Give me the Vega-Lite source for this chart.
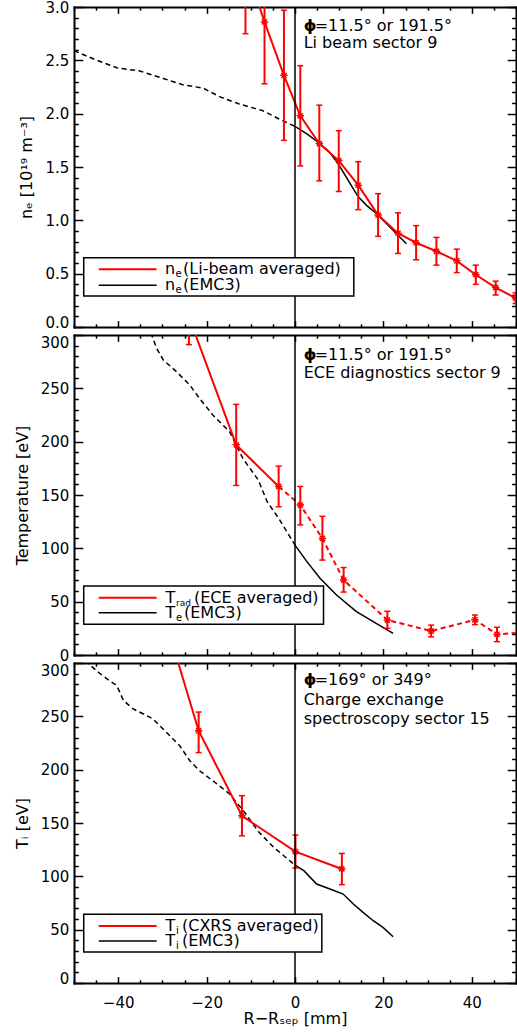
{
  "$schema": "https://vega.github.io/schema/vega-lite/v6.json",
  "background": "white",
  "padding": {"left": 14, "top": 0, "right": 0, "bottom": 0},
  "bounds": "flush",
  "spacing": 8,
  "config": {
    "font": "DejaVu Sans",
    "view": {"stroke": null},
    "axis": {
      "grid": false,
      "domainColor": "black",
      "domainWidth": 2,
      "domainCap": "square",
      "tickColor": "black",
      "tickWidth": 1.5,
      "labelColor": "black",
      "labelFont": "DejaVu Sans",
      "labelFontSize": 15,
      "labelFontWeight": "normal",
      "labelFlush": false,
      "labelOverlap": false,
      "titleColor": "black",
      "titleFont": "DejaVu Sans",
      "titleFontSize": 16,
      "titleFontWeight": "normal"
    },
    "text": {"font": "DejaVu Sans", "color": "black", "fontSize": 16, "align": "left", "baseline": "alphabetic"}
  },
  "datasets": {
    "ne_libeam": [
      {"x": -11.2, "y": 3.40, "lo": 2.75, "hi": 4.05},
      {"x": -6.9, "y": 2.86, "lo": 2.28, "hi": 3.44},
      {"x": -2.5, "y": 2.36, "lo": 1.75, "hi": 2.97},
      {"x": 1.2, "y": 1.98, "lo": 1.51, "hi": 2.45},
      {"x": 5.5, "y": 1.72, "lo": 1.37, "hi": 2.08},
      {"x": 9.9, "y": 1.56, "lo": 1.27, "hi": 1.84},
      {"x": 14.3, "y": 1.33, "lo": 1.10, "hi": 1.55},
      {"x": 18.8, "y": 1.05, "lo": 0.85, "hi": 1.25},
      {"x": 23.3, "y": 0.88, "lo": 0.69, "hi": 1.07},
      {"x": 27.4, "y": 0.79, "lo": 0.63, "hi": 0.95},
      {"x": 32.0, "y": 0.71, "lo": 0.58, "hi": 0.84},
      {"x": 36.6, "y": 0.62, "lo": 0.51, "hi": 0.73},
      {"x": 40.9, "y": 0.49, "lo": 0.40, "hi": 0.58},
      {"x": 45.4, "y": 0.37, "lo": 0.30, "hi": 0.43},
      {"x": 49.9, "y": 0.27, "lo": 0.22, "hi": 0.32}
    ],
    "ne_emc3": [
      {"x": -50, "y": 2.59}, {"x": -44.8, "y": 2.50}, {"x": -40.3, "y": 2.43},
      {"x": -35.1, "y": 2.40}, {"x": -29.8, "y": 2.33}, {"x": -25.3, "y": 2.27},
      {"x": -20.8, "y": 2.24}, {"x": -17.1, "y": 2.16}, {"x": -12.6, "y": 2.09},
      {"x": -7.4, "y": 2.03}, {"x": -3.6, "y": 1.95}, {"x": 0, "y": 1.88},
      {"x": 2.7, "y": 1.81}, {"x": 5.3, "y": 1.73}, {"x": 7.6, "y": 1.65},
      {"x": 9.8, "y": 1.53}, {"x": 12.1, "y": 1.37}, {"x": 14.3, "y": 1.22},
      {"x": 16.2, "y": 1.14}, {"x": 18.8, "y": 1.05}, {"x": 21.4, "y": 0.94},
      {"x": 23.3, "y": 0.86}, {"x": 25.2, "y": 0.78}
    ],
    "te_ece": [
      {"x": -24.0, "y": 317, "lo": 291, "hi": 343},
      {"x": -13.3, "y": 197, "lo": 159, "hi": 235},
      {"x": -3.7, "y": 158, "lo": 139, "hi": 177},
      {"x": 1.2, "y": 140.6, "lo": 122, "hi": 158},
      {"x": 6.2, "y": 109.3, "lo": 89, "hi": 130},
      {"x": 11.0, "y": 70.3, "lo": 59, "hi": 82},
      {"x": 20.9, "y": 32.8, "lo": 25, "hi": 41},
      {"x": 30.8, "y": 22.5, "lo": 17, "hi": 28},
      {"x": 40.7, "y": 33.0, "lo": 28.5, "hi": 37.5},
      {"x": 45.7, "y": 19.3, "lo": 12.5, "hi": 26},
      {"x": 51.0, "y": 21, "lo": 16, "hi": 26}
    ],
    "te_emc3": [
      {"x": -32.6, "y": 302}, {"x": -31.3, "y": 287.5}, {"x": -29.8, "y": 276.6},
      {"x": -26.8, "y": 265.6}, {"x": -23.8, "y": 253.1}, {"x": -21.6, "y": 240.6},
      {"x": -18.6, "y": 225}, {"x": -14.8, "y": 209.4}, {"x": -11.8, "y": 184.3},
      {"x": -8.3, "y": 164}, {"x": -6.3, "y": 143.7}, {"x": -3.7, "y": 128.1},
      {"x": 0, "y": 103}, {"x": 2.7, "y": 87.5}, {"x": 5.7, "y": 71.8},
      {"x": 9.4, "y": 56.2}, {"x": 13.9, "y": 40.6}, {"x": 17.7, "y": 31.2},
      {"x": 22.2, "y": 20.3}
    ],
    "ti_cxrs": [
      {"x": -28.0, "y": 322, "lo": 302, "hi": 342},
      {"x": -21.8, "y": 236.5, "lo": 216, "hi": 254},
      {"x": -12.0, "y": 156.8, "lo": 138, "hi": 175.6},
      {"x": 0.1, "y": 123.1, "lo": 107.8, "hi": 138.7},
      {"x": 10.6, "y": 106.9, "lo": 92.2, "hi": 121.5}
    ],
    "ti_emc3": [
      {"x": -47.5, "y": 302}, {"x": -44, "y": 289.7}, {"x": -41.4, "y": 281.8},
      {"x": -40.3, "y": 278.7}, {"x": -38.8, "y": 264.7}, {"x": -36.6, "y": 256.9},
      {"x": -34.3, "y": 252.2}, {"x": -32.1, "y": 247.5}, {"x": -29.1, "y": 235},
      {"x": -26.1, "y": 222.5}, {"x": -23.8, "y": 208.4}, {"x": -21.6, "y": 199},
      {"x": -18.6, "y": 189.7}, {"x": -14.8, "y": 177.2}, {"x": -11.1, "y": 158.4},
      {"x": -8.3, "y": 142}, {"x": -4.8, "y": 127.1}, {"x": 0, "y": 110.5},
      {"x": 2.0, "y": 105.3}, {"x": 4.9, "y": 92.8}, {"x": 7.9, "y": 88.1},
      {"x": 10.9, "y": 83.4}, {"x": 13.2, "y": 74.1}, {"x": 15.4, "y": 66.2},
      {"x": 17.7, "y": 58.4}, {"x": 19.9, "y": 52.1}, {"x": 22.2, "y": 43.4}
    ],
    "separatrix": [{"r": 0}]
  },
  "vconcat": [
    {
      "width": 442,
      "height": 320,
      "layer": [
        {
          "data": {"name": "ne_emc3"},
          "transform": [{"filter": "datum.x <= 0"}],
          "mark": {"type": "line", "color": "black", "strokeWidth": 1.5, "strokeDash": [5, 3.5], "clip": true},
          "encoding": {
            "x": {"field": "x", "type": "quantitative", "scale": {"domain": [-50, 50], "nice": false, "zero": false},
              "axis": {"orient": "bottom", "values": [-50,-45,-40,-35,-30,-25,-20,-15,-10,-5,0,5,10,15,20,25,30,35,40,45,50],
                "tickSize": {"expr": "datum.value % 20 === 0 ? -6.4 : -3.2"}, "labels": false, "title": null}},
            "y": {"field": "y", "type": "quantitative", "scale": {"domain": [0, 3], "nice": false, "zero": false},
              "axis": {"orient": "left", "values": [0,0.1,0.2,0.3,0.4,0.5,0.6,0.7,0.8,0.9,1,1.1,1.2,1.3,1.4,1.5,1.6,1.7,1.8,1.9,2,2.1,2.2,2.3,2.4,2.5,2.6,2.7,2.8,2.9,3],
                "tickSize": {"expr": "round(datum.value * 10) % 5 === 0 ? -8.8 : -4.4"},
                "labelExpr": "round(datum.value * 10) % 5 === 0 ? format(datum.value, '.1f') : ''",
                "labelBaseline": {"condition": {"test": "datum.value === 0", "value": "alphabetic"}, "value": "middle"},
                "labelPadding": 14, "title": "nₑ [10¹⁹ m⁻³]", "titlePadding": 10}}
          }
        },
        {
          "data": {"name": "ne_emc3"},
          "transform": [{"filter": "datum.x >= 0"}],
          "mark": {"type": "line", "color": "black", "strokeWidth": 1.5, "clip": true},
          "encoding": {
            "x": {"field": "x", "type": "quantitative",
              "axis": {"orient": "top", "values": [-50,-45,-40,-35,-30,-25,-20,-15,-10,-5,0,5,10,15,20,25,30,35,40,45,50],
                "tickSize": {"expr": "datum.value % 20 === 0 ? -6.4 : -3.2"}, "labels": false, "title": null}},
            "y": {"field": "y", "type": "quantitative",
              "axis": {"orient": "right", "values": [0,0.1,0.2,0.3,0.4,0.5,0.6,0.7,0.8,0.9,1,1.1,1.2,1.3,1.4,1.5,1.6,1.7,1.8,1.9,2,2.1,2.2,2.3,2.4,2.5,2.6,2.7,2.8,2.9,3],
                "tickSize": {"expr": "round(datum.value * 10) % 5 === 0 ? -8.8 : -4.4"}, "labels": false, "title": null}}
          }
        },
        {
          "data": {"name": "ne_libeam"},
          "mark": {"type": "line", "color": "#ff0000", "strokeWidth": 2, "clip": true},
          "encoding": {
            "x": {"field": "x", "type": "quantitative", "axis": null},
            "y": {"field": "y", "type": "quantitative", "axis": null}
          }
        },
        {
          "data": {"name": "ne_libeam"},
          "mark": {"type": "rule", "color": "#ff0000", "strokeWidth": 2, "clip": true},
          "encoding": {
            "x": {"field": "x", "type": "quantitative", "axis": null},
            "y": {"field": "lo", "type": "quantitative", "axis": null},
            "y2": {"field": "hi"}
          }
        },
        {
          "data": {"name": "ne_libeam"},
          "mark": {"type": "tick", "orient": "horizontal", "color": "#ff0000", "size": 6, "thickness": 1.5, "opacity": 1, "clip": true},
          "encoding": {
            "x": {"field": "x", "type": "quantitative", "axis": null},
            "y": {"field": "lo", "type": "quantitative", "axis": null}
          }
        },
        {
          "data": {"name": "ne_libeam"},
          "mark": {"type": "tick", "orient": "horizontal", "color": "#ff0000", "size": 6, "thickness": 1.5, "opacity": 1, "clip": true},
          "encoding": {
            "x": {"field": "x", "type": "quantitative", "axis": null},
            "y": {"field": "hi", "type": "quantitative", "axis": null}
          }
        },
        {
          "data": {"name": "ne_libeam"},
          "mark": {"type": "point", "shape": "M-1,0L1,0M0,-1L0,1M-0.7,-0.7L0.7,0.7M-0.7,0.7L0.7,-0.7", "filled": false, "color": "#ff0000", "strokeWidth": 1.5, "size": 55, "opacity": 1, "clip": true},
          "encoding": {
            "x": {"field": "x", "type": "quantitative", "axis": null},
            "y": {"field": "y", "type": "quantitative", "axis": null}
          }
        },
        {
          "data": {"name": "separatrix"},
          "mark": {"type": "rule", "color": "black", "strokeWidth": 1.5},
          "encoding": {"x": {"field": "r", "type": "quantitative", "axis": null}}
        },
        {
          "data": {"values": [{}]},
          "mark": {"type": "rect", "fill": "white", "stroke": "black", "strokeWidth": 1.5},
          "encoding": {"x": {"datum": -47.8, "axis": null}, "x2": {"datum": 13.3}, "y": {"datum": 0.65, "axis": null}, "y2": {"datum": 0.29}}
        },
        {
          "data": {"values": [{}]},
          "mark": {"type": "rule", "color": "#ff0000", "strokeWidth": 2},
          "encoding": {"x": {"datum": -44.4, "axis": null}, "x2": {"datum": -31.3}, "y": {"datum": 0.541, "axis": null}}
        },
        {
          "data": {"values": [{}]},
          "mark": {"type": "rule", "color": "black", "strokeWidth": 1.5},
          "encoding": {"x": {"datum": -44.4, "axis": null}, "x2": {"datum": -31.3}, "y": {"datum": 0.391, "axis": null}}
        },
        {
          "data": {"values": [{"label": "n"}]},
          "mark": {"type": "text", "baseline": "middle"},
          "encoding": {"x": {"datum": -29.4, "axis": null}, "y": {"datum": 0.541, "axis": null}, "text": {"field": "label"}}
        },
        {
          "data": {"values": [{"label": "e"}]},
          "mark": {"type": "text", "baseline": "middle", "fontSize": 10, "dx": 10.5, "dy": 5},
          "encoding": {"x": {"datum": -29.4, "axis": null}, "y": {"datum": 0.541, "axis": null}, "text": {"field": "label"}}
        },
        {
          "data": {"values": [{"label": "(Li-beam averaged)"}]},
          "mark": {"type": "text", "baseline": "middle", "dx": 18},
          "encoding": {"x": {"datum": -29.4, "axis": null}, "y": {"datum": 0.541, "axis": null}, "text": {"field": "label"}}
        },
        {
          "data": {"values": [{"label": "n"}]},
          "mark": {"type": "text", "baseline": "middle"},
          "encoding": {"x": {"datum": -29.4, "axis": null}, "y": {"datum": 0.391, "axis": null}, "text": {"field": "label"}}
        },
        {
          "data": {"values": [{"label": "e"}]},
          "mark": {"type": "text", "baseline": "middle", "fontSize": 10, "dx": 10.5, "dy": 5},
          "encoding": {"x": {"datum": -29.4, "axis": null}, "y": {"datum": 0.391, "axis": null}, "text": {"field": "label"}}
        },
        {
          "data": {"values": [{"label": "(EMC3)"}]},
          "mark": {"type": "text", "baseline": "middle", "dx": 18},
          "encoding": {"x": {"datum": -29.4, "axis": null}, "y": {"datum": 0.391, "axis": null}, "text": {"field": "label"}}
        },
        {
          "data": {"values": [{"label": "ϕ"}]},
          "mark": {"type": "text", "fontWeight": "bold"},
          "encoding": {"x": {"datum": 1.96, "axis": null}, "y": {"datum": 2.775, "axis": null}, "text": {"field": "label"}}
        },
        {
          "data": {"values": [{"label": "=11.5° or 191.5°"}]},
          "mark": {"type": "text", "dx": 11},
          "encoding": {"x": {"datum": 1.96, "axis": null}, "y": {"datum": 2.775, "axis": null}, "text": {"field": "label"}}
        },
        {
          "data": {"values": [{"label": "Li beam sector 9"}]},
          "mark": {"type": "text"},
          "encoding": {"x": {"datum": 1.96, "axis": null}, "y": {"datum": 2.62, "axis": null}, "text": {"field": "label"}}
        }
      ]
    },
    {
      "width": 442,
      "height": 320,
      "layer": [
        {
          "data": {"name": "te_emc3"},
          "transform": [{"filter": "datum.x <= 0"}],
          "mark": {"type": "line", "color": "black", "strokeWidth": 1.5, "strokeDash": [5, 3.5], "clip": true},
          "encoding": {
            "x": {"field": "x", "type": "quantitative", "scale": {"domain": [-50, 50], "nice": false, "zero": false},
              "axis": {"orient": "bottom", "values": [-50,-45,-40,-35,-30,-25,-20,-15,-10,-5,0,5,10,15,20,25,30,35,40,45,50],
                "tickSize": {"expr": "datum.value % 20 === 0 ? -6.4 : -3.2"}, "labels": false, "title": null}},
            "y": {"field": "y", "type": "quantitative", "scale": {"domain": [0, 300], "nice": false, "zero": false},
              "axis": {"orient": "left", "values": [0,10,20,30,40,50,60,70,80,90,100,110,120,130,140,150,160,170,180,190,200,210,220,230,240,250,260,270,280,290,300],
                "tickSize": {"expr": "datum.value % 50 === 0 ? -8.8 : -4.4"},
                "labelExpr": "datum.value % 50 === 0 ? datum.label : ''",
                "labelBaseline": {"condition": {"test": "datum.value === 300", "value": "top"}, "value": "middle"},
                "labelPadding": 14, "title": "Temperature [eV]", "titlePadding": 10}}
          }
        },
        {
          "data": {"name": "te_emc3"},
          "transform": [{"filter": "datum.x >= 0"}],
          "mark": {"type": "line", "color": "black", "strokeWidth": 1.5, "clip": true},
          "encoding": {
            "x": {"field": "x", "type": "quantitative",
              "axis": {"orient": "top", "values": [-50,-45,-40,-35,-30,-25,-20,-15,-10,-5,0,5,10,15,20,25,30,35,40,45,50],
                "tickSize": {"expr": "datum.value % 20 === 0 ? -6.4 : -3.2"}, "labels": false, "title": null}},
            "y": {"field": "y", "type": "quantitative",
              "axis": {"orient": "right", "values": [0,10,20,30,40,50,60,70,80,90,100,110,120,130,140,150,160,170,180,190,200,210,220,230,240,250,260,270,280,290,300],
                "tickSize": {"expr": "datum.value % 50 === 0 ? -8.8 : -4.4"}, "labels": false, "title": null}}
          }
        },
        {
          "data": {"name": "te_ece"},
          "transform": [{"filter": "datum.x <= -3.7"}],
          "mark": {"type": "line", "color": "#ff0000", "strokeWidth": 2, "clip": true},
          "encoding": {
            "x": {"field": "x", "type": "quantitative", "axis": null},
            "y": {"field": "y", "type": "quantitative", "axis": null}
          }
        },
        {
          "data": {"name": "te_ece"},
          "transform": [{"filter": "datum.x >= -3.7"}],
          "mark": {"type": "line", "color": "#ff0000", "strokeWidth": 2, "strokeDash": [5, 3.5], "clip": true},
          "encoding": {
            "x": {"field": "x", "type": "quantitative", "axis": null},
            "y": {"field": "y", "type": "quantitative", "axis": null}
          }
        },
        {
          "data": {"name": "te_ece"},
          "mark": {"type": "rule", "color": "#ff0000", "strokeWidth": 2, "clip": true},
          "encoding": {
            "x": {"field": "x", "type": "quantitative", "axis": null},
            "y": {"field": "lo", "type": "quantitative", "axis": null},
            "y2": {"field": "hi"}
          }
        },
        {
          "data": {"name": "te_ece"},
          "mark": {"type": "tick", "orient": "horizontal", "color": "#ff0000", "size": 6, "thickness": 1.5, "opacity": 1, "clip": true},
          "encoding": {
            "x": {"field": "x", "type": "quantitative", "axis": null},
            "y": {"field": "lo", "type": "quantitative", "axis": null}
          }
        },
        {
          "data": {"name": "te_ece"},
          "mark": {"type": "tick", "orient": "horizontal", "color": "#ff0000", "size": 6, "thickness": 1.5, "opacity": 1, "clip": true},
          "encoding": {
            "x": {"field": "x", "type": "quantitative", "axis": null},
            "y": {"field": "hi", "type": "quantitative", "axis": null}
          }
        },
        {
          "data": {"name": "te_ece"},
          "mark": {"type": "point", "shape": "M-1,0L1,0M0,-1L0,1M-0.7,-0.7L0.7,0.7M-0.7,0.7L0.7,-0.7", "filled": false, "color": "#ff0000", "strokeWidth": 1.5, "size": 55, "opacity": 1, "clip": true},
          "encoding": {
            "x": {"field": "x", "type": "quantitative", "axis": null},
            "y": {"field": "y", "type": "quantitative", "axis": null}
          }
        },
        {
          "data": {"name": "separatrix"},
          "mark": {"type": "rule", "color": "black", "strokeWidth": 1.5},
          "encoding": {"x": {"field": "r", "type": "quantitative", "axis": null}}
        },
        {
          "data": {"values": [{}]},
          "mark": {"type": "rect", "fill": "white", "stroke": "black", "strokeWidth": 1.5},
          "encoding": {"x": {"datum": -47.8, "axis": null}, "x2": {"datum": 6.45}, "y": {"datum": 64.7, "axis": null}, "y2": {"datum": 28.8}}
        },
        {
          "data": {"values": [{}]},
          "mark": {"type": "rule", "color": "#ff0000", "strokeWidth": 2},
          "encoding": {"x": {"datum": -44.4, "axis": null}, "x2": {"datum": -31.3}, "y": {"datum": 53.7, "axis": null}}
        },
        {
          "data": {"values": [{}]},
          "mark": {"type": "rule", "color": "black", "strokeWidth": 1.5},
          "encoding": {"x": {"datum": -44.4, "axis": null}, "x2": {"datum": -31.3}, "y": {"datum": 39.7, "axis": null}}
        },
        {
          "data": {"values": [{"label": "T"}]},
          "mark": {"type": "text", "baseline": "middle"},
          "encoding": {"x": {"datum": -29.3, "axis": null}, "y": {"datum": 53.7, "axis": null}, "text": {"field": "label"}}
        },
        {
          "data": {"values": [{"label": "rad"}]},
          "mark": {"type": "text", "baseline": "middle", "fontSize": 9, "dx": 10.5, "dy": 5},
          "encoding": {"x": {"datum": -29.3, "axis": null}, "y": {"datum": 53.7, "axis": null}, "text": {"field": "label"}}
        },
        {
          "data": {"values": [{"label": "(ECE averaged)"}]},
          "mark": {"type": "text", "baseline": "middle", "dx": 28.5},
          "encoding": {"x": {"datum": -29.3, "axis": null}, "y": {"datum": 53.7, "axis": null}, "text": {"field": "label"}}
        },
        {
          "data": {"values": [{"label": "T"}]},
          "mark": {"type": "text", "baseline": "middle"},
          "encoding": {"x": {"datum": -29.3, "axis": null}, "y": {"datum": 39.7, "axis": null}, "text": {"field": "label"}}
        },
        {
          "data": {"values": [{"label": "e"}]},
          "mark": {"type": "text", "baseline": "middle", "fontSize": 10, "dx": 10.5, "dy": 5},
          "encoding": {"x": {"datum": -29.3, "axis": null}, "y": {"datum": 39.7, "axis": null}, "text": {"field": "label"}}
        },
        {
          "data": {"values": [{"label": "(EMC3)"}]},
          "mark": {"type": "text", "baseline": "middle", "dx": 18.5},
          "encoding": {"x": {"datum": -29.3, "axis": null}, "y": {"datum": 39.7, "axis": null}, "text": {"field": "label"}}
        },
        {
          "data": {"values": [{"label": "ϕ"}]},
          "mark": {"type": "text", "fontWeight": "bold"},
          "encoding": {"x": {"datum": 1.96, "axis": null}, "y": {"datum": 276.3, "axis": null}, "text": {"field": "label"}}
        },
        {
          "data": {"values": [{"label": "=11.5° or 191.5°"}]},
          "mark": {"type": "text", "dx": 11},
          "encoding": {"x": {"datum": 1.96, "axis": null}, "y": {"datum": 276.3, "axis": null}, "text": {"field": "label"}}
        },
        {
          "data": {"values": [{"label": "ECE diagnostics sector 9"}]},
          "mark": {"type": "text"},
          "encoding": {"x": {"datum": 1.96, "axis": null}, "y": {"datum": 260, "axis": null}, "text": {"field": "label"}}
        }
      ]
    },
    {
      "width": 442,
      "height": 320,
      "layer": [
        {
          "data": {"name": "ti_emc3"},
          "transform": [{"filter": "datum.x <= 0"}],
          "mark": {"type": "line", "color": "black", "strokeWidth": 1.5, "strokeDash": [5, 3.5], "clip": true},
          "encoding": {
            "x": {"field": "x", "type": "quantitative", "scale": {"domain": [-50, 50], "nice": false, "zero": false},
              "axis": {"orient": "bottom", "values": [-50,-45,-40,-35,-30,-25,-20,-15,-10,-5,0,5,10,15,20,25,30,35,40,45,50],
                "tickSize": {"expr": "datum.value % 20 === 0 ? -6.4 : -3.2"},
                "labelExpr": "datum.value % 20 === 0 ? datum.label : ''",
                "labelPadding": 18.4, "title": "R−Rₛₑₚ [mm]", "titlePadding": -3}},
            "y": {"field": "y", "type": "quantitative", "scale": {"domain": [0, 300], "nice": false, "zero": false},
              "axis": {"orient": "left", "values": [0,10,20,30,40,50,60,70,80,90,100,110,120,130,140,150,160,170,180,190,200,210,220,230,240,250,260,270,280,290,300],
                "tickSize": {"expr": "datum.value % 50 === 0 ? -8.8 : -4.4"},
                "labelExpr": "datum.value % 50 === 0 ? datum.label : ''",
                "labelBaseline": {"condition": [{"test": "datum.value === 300", "value": "top"}, {"test": "datum.value === 0", "value": "alphabetic"}], "value": "middle"},
                "labelPadding": 14, "title": "Tᵢ [eV]", "titlePadding": 10}}
          }
        },
        {
          "data": {"name": "ti_emc3"},
          "transform": [{"filter": "datum.x >= 0"}],
          "mark": {"type": "line", "color": "black", "strokeWidth": 1.5, "clip": true},
          "encoding": {
            "x": {"field": "x", "type": "quantitative",
              "axis": {"orient": "top", "values": [-50,-45,-40,-35,-30,-25,-20,-15,-10,-5,0,5,10,15,20,25,30,35,40,45,50],
                "tickSize": {"expr": "datum.value % 20 === 0 ? -6.4 : -3.2"}, "labels": false, "title": null}},
            "y": {"field": "y", "type": "quantitative",
              "axis": {"orient": "right", "values": [0,10,20,30,40,50,60,70,80,90,100,110,120,130,140,150,160,170,180,190,200,210,220,230,240,250,260,270,280,290,300],
                "tickSize": {"expr": "datum.value % 50 === 0 ? -8.8 : -4.4"}, "labels": false, "title": null}}
          }
        },
        {
          "data": {"name": "ti_cxrs"},
          "mark": {"type": "line", "color": "#ff0000", "strokeWidth": 2, "clip": true},
          "encoding": {
            "x": {"field": "x", "type": "quantitative", "axis": null},
            "y": {"field": "y", "type": "quantitative", "axis": null}
          }
        },
        {
          "data": {"name": "ti_cxrs"},
          "mark": {"type": "rule", "color": "#ff0000", "strokeWidth": 2, "clip": true},
          "encoding": {
            "x": {"field": "x", "type": "quantitative", "axis": null},
            "y": {"field": "lo", "type": "quantitative", "axis": null},
            "y2": {"field": "hi"}
          }
        },
        {
          "data": {"name": "ti_cxrs"},
          "mark": {"type": "tick", "orient": "horizontal", "color": "#ff0000", "size": 6, "thickness": 1.5, "opacity": 1, "clip": true},
          "encoding": {
            "x": {"field": "x", "type": "quantitative", "axis": null},
            "y": {"field": "lo", "type": "quantitative", "axis": null}
          }
        },
        {
          "data": {"name": "ti_cxrs"},
          "mark": {"type": "tick", "orient": "horizontal", "color": "#ff0000", "size": 6, "thickness": 1.5, "opacity": 1, "clip": true},
          "encoding": {
            "x": {"field": "x", "type": "quantitative", "axis": null},
            "y": {"field": "hi", "type": "quantitative", "axis": null}
          }
        },
        {
          "data": {"name": "ti_cxrs"},
          "mark": {"type": "point", "shape": "M-1,0L1,0M0,-1L0,1M-0.7,-0.7L0.7,0.7M-0.7,0.7L0.7,-0.7", "filled": false, "color": "#ff0000", "strokeWidth": 1.5, "size": 55, "opacity": 1, "clip": true},
          "encoding": {
            "x": {"field": "x", "type": "quantitative", "axis": null},
            "y": {"field": "y", "type": "quantitative", "axis": null}
          }
        },
        {
          "data": {"name": "separatrix"},
          "mark": {"type": "rule", "color": "black", "strokeWidth": 1.5},
          "encoding": {"x": {"field": "r", "type": "quantitative", "axis": null}}
        },
        {
          "data": {"values": [{}]},
          "mark": {"type": "rect", "fill": "white", "stroke": "black", "strokeWidth": 1.5},
          "encoding": {"x": {"datum": -47.8, "axis": null}, "x2": {"datum": 6.07}, "y": {"datum": 64.4, "axis": null}, "y2": {"datum": 29.1}}
        },
        {
          "data": {"values": [{}]},
          "mark": {"type": "rule", "color": "#ff0000", "strokeWidth": 2},
          "encoding": {"x": {"datum": -44.4, "axis": null}, "x2": {"datum": -31.3}, "y": {"datum": 53.4, "axis": null}}
        },
        {
          "data": {"values": [{}]},
          "mark": {"type": "rule", "color": "black", "strokeWidth": 1.5},
          "encoding": {"x": {"datum": -44.4, "axis": null}, "x2": {"datum": -31.3}, "y": {"datum": 39.4, "axis": null}}
        },
        {
          "data": {"values": [{"label": "T"}]},
          "mark": {"type": "text", "baseline": "middle"},
          "encoding": {"x": {"datum": -29.3, "axis": null}, "y": {"datum": 53.4, "axis": null}, "text": {"field": "label"}}
        },
        {
          "data": {"values": [{"label": "i"}]},
          "mark": {"type": "text", "baseline": "middle", "fontSize": 10, "dx": 10.5, "dy": 5},
          "encoding": {"x": {"datum": -29.3, "axis": null}, "y": {"datum": 53.4, "axis": null}, "text": {"field": "label"}}
        },
        {
          "data": {"values": [{"label": "(CXRS averaged)"}]},
          "mark": {"type": "text", "baseline": "middle", "dx": 16.5},
          "encoding": {"x": {"datum": -29.3, "axis": null}, "y": {"datum": 53.4, "axis": null}, "text": {"field": "label"}}
        },
        {
          "data": {"values": [{"label": "T"}]},
          "mark": {"type": "text", "baseline": "middle"},
          "encoding": {"x": {"datum": -29.3, "axis": null}, "y": {"datum": 39.4, "axis": null}, "text": {"field": "label"}}
        },
        {
          "data": {"values": [{"label": "i"}]},
          "mark": {"type": "text", "baseline": "middle", "fontSize": 10, "dx": 10.5, "dy": 5},
          "encoding": {"x": {"datum": -29.3, "axis": null}, "y": {"datum": 39.4, "axis": null}, "text": {"field": "label"}}
        },
        {
          "data": {"values": [{"label": "(EMC3)"}]},
          "mark": {"type": "text", "baseline": "middle", "dx": 16.5},
          "encoding": {"x": {"datum": -29.3, "axis": null}, "y": {"datum": 39.4, "axis": null}, "text": {"field": "label"}}
        },
        {
          "data": {"values": [{"label": "ϕ"}]},
          "mark": {"type": "text", "fontWeight": "bold"},
          "encoding": {"x": {"datum": 1.96, "axis": null}, "y": {"datum": 279.1, "axis": null}, "text": {"field": "label"}}
        },
        {
          "data": {"values": [{"label": "=169° or 349°"}]},
          "mark": {"type": "text", "dx": 11},
          "encoding": {"x": {"datum": 1.96, "axis": null}, "y": {"datum": 279.1, "axis": null}, "text": {"field": "label"}}
        },
        {
          "data": {"values": [{"label": "Charge exchange"}]},
          "mark": {"type": "text"},
          "encoding": {"x": {"datum": 1.96, "axis": null}, "y": {"datum": 260.3, "axis": null}, "text": {"field": "label"}}
        },
        {
          "data": {"values": [{"label": "spectroscopy sector 15"}]},
          "mark": {"type": "text"},
          "encoding": {"x": {"datum": 1.96, "axis": null}, "y": {"datum": 242.5, "axis": null}, "text": {"field": "label"}}
        }
      ]
    }
  ]
}
